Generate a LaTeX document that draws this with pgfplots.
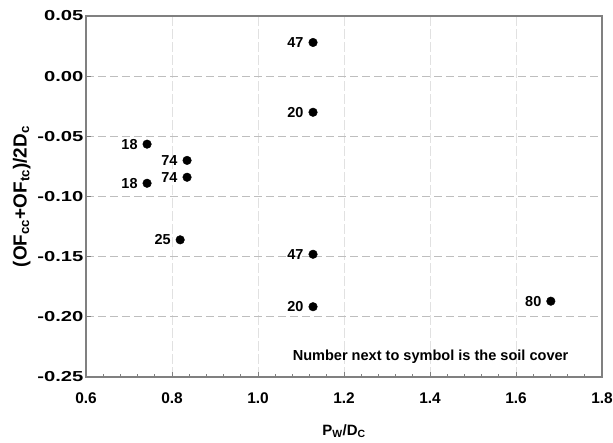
\documentclass[border=0pt]{standalone}
\usepackage{pgfplots}
\pgfplotsset{compat=1.18}
\usepackage{fontspec}
\setmainfont{Liberation Sans}
\newfontfamily\widefont{Liberation Sans}[FakeStretch=1.4]

\definecolor{axgray}{RGB}{128,128,128}
\definecolor{hgrid}{RGB}{190,190,190}
\definecolor{vgrid}{RGB}{225,225,225}

\begin{document}
\begin{tikzpicture}
\path[use as bounding box] (-86bp,-66bp) rectangle (527bp,377bp);
\begin{axis}[
  scale only axis, width=516bp, height=361bp,
  xmin=0.6, xmax=1.8, ymin=-0.25, ymax=0.05,
  xtick={0.6,0.8,...,1.8}, ytick={-0.25,-0.20,...,0.05},
  minor x tick num=4,
  xtick pos=bottom, ytick pos=left, tick align=inside,
  major tick length=5bp, minor tick length=3bp,
  axis line style={axgray, line width=1.5bp},
  tick style={axgray, line width=0.8bp},
  xmajorgrids, ymajorgrids,
  x grid style={vgrid, dash pattern=on 10bp off 3bp, line width=0.8bp},
  y grid style={hgrid, dash pattern=on 8bp off 4bp, line width=1bp},
  /pgf/number format/assume math mode=true,
  xticklabel style={/pgf/number format/.cd, fixed, fixed zerofill, precision=1,
    /tikz/.cd, font=\fontsize{15.5}{17}\selectfont\bfseries, yshift=-12bp},
  yticklabel style={/pgf/number format/.cd, fixed, fixed zerofill, precision=2,
    /tikz/.cd, font=\widefont\fontsize{14.5}{17}\selectfont\bfseries, xshift=1bp},
  xlabel={P\textsubscript{W}/D\textsubscript{C}},
  ylabel={(OF\textsubscript{cc}+OF\textsubscript{tc})/2D\textsubscript{c}},
  xlabel style={font=\fontsize{15}{17}\selectfont\bfseries, yshift=-14bp},
  ylabel style={font=\fontsize{19}{21}\selectfont\bfseries, yshift=0bp},
]
\addplot[only marks, mark=*, mark size=4.3bp, black,
  point meta=explicit symbolic,
  nodes near coords,
  every node near coord/.append style={anchor=east, xshift=-6bp,
    font=\fontsize{14.5}{16}\selectfont\bfseries, text=black}]
  table[meta=lab] {
  x      y       lab
  1.128  0.028   47
  1.128 -0.030   20
  0.742 -0.0565  18
  0.835 -0.070   74
  0.835 -0.084   74
  0.742 -0.089   18
  0.819 -0.136   25
  1.128 -0.148   47
  1.128 -0.1916  20
  1.681 -0.187   80
};
\node[anchor=east, font=\fontsize{14.6}{16}\selectfont\bfseries] at (axis cs:1.73,-0.233)
  {Number next to symbol is the soil cover};
\end{axis}
\end{tikzpicture}
\end{document}
